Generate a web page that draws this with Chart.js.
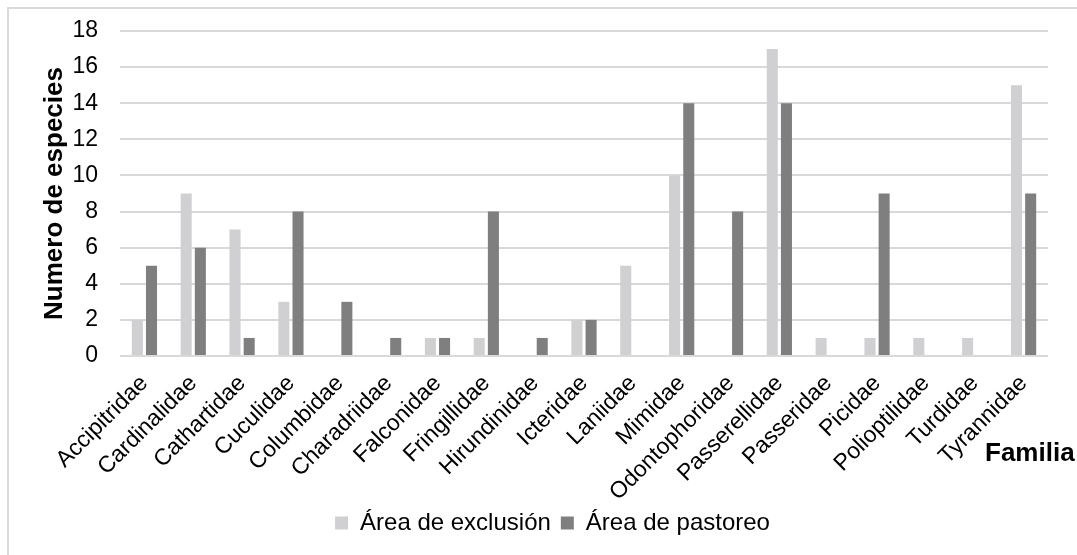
<!DOCTYPE html>
<html>
<head>
<meta charset="utf-8">
<script src="https://cdn.jsdelivr.net/npm/chart.js@4.4.0/dist/chart.umd.min.js"></script>
<style>
  html, body { margin: 0; padding: 0; background: #fff; overflow: hidden; }
  #frame { position: absolute; left: 7px; top: 7px; width: 1100px; height: 600px; border: 2px solid #d9d9d9; }
  #chart { position: absolute; left: 0; top: 0; }
  #familia { position: absolute; left: 985px; top: 439px; font: bold 26px "Liberation Sans", Arial, sans-serif; color: #000; line-height: 1; }
</style>
</head>
<body>
<div id="frame"></div>
<canvas id="chart" width="1077" height="555"></canvas>
<div id="familia">Familia</div>
<script>
const familias = ['Accipitridae','Cardinalidae','Cathartidae','Cuculidae','Columbidae','Charadriidae',
  'Falconidae','Fringillidae','Hirundinidae','Icteridae','Laniidae','Mimidae','Odontophoridae',
  'Passerellidae','Passeridae','Picidae','Polioptilidae','Turdidae','Tyrannidae'];
const exclusion = [2, 9, 7, 3, 0, 0, 1, 1, 0, 2, 5, 10, 0, 17, 1, 1, 1, 1, 15];
const pastoreo  = [5, 6, 1, 8, 3, 1, 1, 8, 1, 2, 0, 14, 8, 14, 0, 9, 0, 0, 9];
const yTicks = [0, 2, 4, 6, 8, 10, 12, 14, 16, 18];

const font = '"Liberation Sans", Arial, sans-serif';

// legend in the original sits a little right of the canvas centre
const shiftLegend = {
  id: 'shiftLegend',
  afterLayout(chart) { chart.legend.left += 11; chart.legend.right += 11; }
};

new Chart(document.getElementById('chart'), {
  type: 'bar',
  data: {
    labels: familias,
    datasets: [
      { label: 'Área de exclusión', data: exclusion, backgroundColor: '#d0cfd1' },
      { label: 'Área de pastoreo', data: pastoreo, backgroundColor: '#7f7f7f' }
    ]
  },
  plugins: [shiftLegend],
  options: {
    responsive: false,
    animation: false,
    layout: { padding: { left: 35, top: 31, right: 29, bottom: 10 } },
    datasets: { bar: { categoryPercentage: 0.58, barPercentage: 0.78 } },
    plugins: {
      tooltip: { enabled: false },
      legend: {
        position: 'bottom',
        labels: {
          color: '#000', boxWidth: 13, boxHeight: 13, padding: 10,
          font: { family: font, size: 24 }
        }
      }
    },
    scales: {
      x: {
        afterFit: s => { s.height = 145; },
        grid: { display: false },
        border: { display: false },
        ticks: {
          color: '#000', autoSkip: false, maxRotation: 45, minRotation: 45, padding: 6,
          font: { family: font, size: 23 }
        }
      },
      y: {
        min: 0, max: 18,
        afterBuildTicks: s => { s.ticks = yTicks.map(v => ({ value: v })); },
        afterFit: s => { s.width = 85; s.paddingTop = 0; s.paddingBottom = 0; },
        grid: { color: '#d9d9d9', lineWidth: 2, drawTicks: false },
        border: { display: false },
        ticks: { color: '#000', padding: 22, font: { family: font, size: 23 } },
        title: {
          display: true, text: 'Numero de especies', color: '#000',
          font: { family: font, size: 26, weight: 'bold' }
        }
      }
    }
  }
});
</script>
</body>
</html>
